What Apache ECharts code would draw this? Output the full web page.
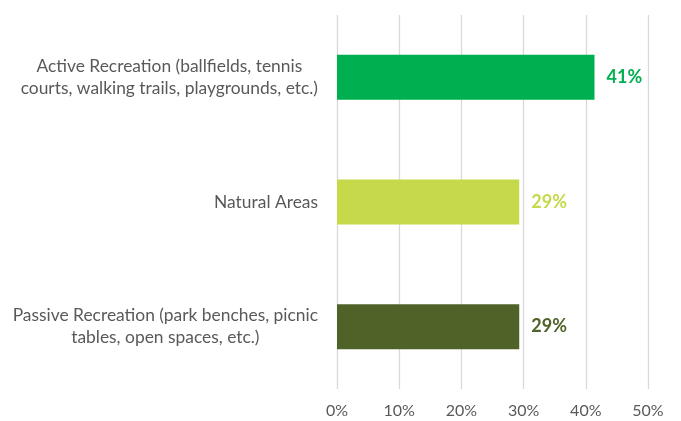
<!DOCTYPE html>
<html>
<head>
<meta charset="utf-8">
<script src="https://cdn.jsdelivr.net/npm/echarts@6/dist/echarts.min.js"></script>
<style>
  html, body { margin: 0; padding: 0; background: #fff; }
  #chart { width: 681px; height: 421px; }
</style>
</head>
<body>
<div id="chart"></div>
<script>
// Survey categories, one line per entry of each label
const categories = [
  ['Active Recreation (ballfields, tennis', 'courts, walking trails, playgrounds, etc.)'],
  ['Natural Areas'],
  ['Passive Recreation (park benches, picnic', 'tables, open spaces, etc.)']
];
// Share of respondents (%)
const shares = [41.4, 29.3, 29.3];
const barColors = ['#00B050', '#C6D94A', '#4F6228'];
// Value axis ticks (%)
const tickMin = 0;
const tickMax = 50;
const tickStep = 10;

const chart = echarts.init(document.getElementById('chart'));

chart.setOption({
  animation: false,
  textStyle: { fontFamily: 'Lato, "Open Sans", sans-serif' },
  grid: { left: 337, right: 33, top: 15, bottom: 32 },
  xAxis: {
    type: 'value',
    min: tickMin,
    max: tickMax,
    interval: tickStep,
    axisLine: { show: false },
    axisTick: { show: false },
    splitLine: { lineStyle: { color: '#D9D9D9', width: 1.3 } },
    axisLabel: {
      color: '#595959',
      fontSize: 16,
      margin: 14,
      formatter: v => v + '%'
    }
  },
  yAxis: {
    type: 'category',
    inverse: true,
    data: categories.map(lines => lines.join('\n')),
    axisLine: { show: false },
    axisTick: { show: false },
    axisLabel: {
      color: '#595959',
      fontSize: 17.4,
      margin: 19,
      align: 'right',
      lineHeight: 22,
      formatter: v => v.split('\n').map(l => '{c|' + l + '}').join('\n'),
      rich: {
        c: { align: 'center', color: '#595959', fontSize: 17.4, lineHeight: 22 }
      }
    }
  },
  series: [{
    type: 'bar',
    barWidth: 45,
    data: shares.map((v, i) => ({
      value: v,
      itemStyle: { color: barColors[i] },
      label: { color: barColors[i] }
    })),
    label: {
      show: true,
      position: 'right',
      distance: 12,
      fontSize: 18,
      fontWeight: 'bold',
      formatter: p => Math.round(p.value) + '%'
    }
  }]
});
</script>
</body>
</html>
